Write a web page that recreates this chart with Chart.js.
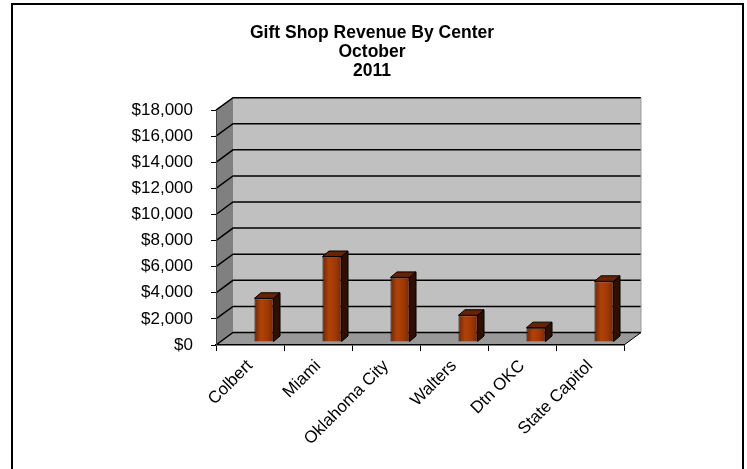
<!DOCTYPE html>
<html>
<head>
<meta charset="utf-8">
<title>Gift Shop Revenue By Center</title>
<script src="https://cdn.jsdelivr.net/npm/chart.js@4.4.1/dist/chart.umd.min.js"></script>
<style>
  html, body { margin: 0; padding: 0; background: #fff; }
  canvas { display: block; }
</style>
</head>
<body>
<canvas id="chart" width="747" height="469"></canvas>
<script>
// Revenue per center for the month
const centers = ['Colbert', 'Miami', 'Oklahoma City', 'Walters', 'Dtn OKC', 'State Capitol'];
const revenue = [3350, 6550, 4950, 2050, 1100, 4650];
const titleLines = ['Gift Shop Revenue By Center', 'October', '2011'];
const yMax = 18000;
const yStep = 2000;

const FONT = "'Liberation Sans', Arial, sans-serif";

// fake 3d: back wall offset, bar offset into the box, bar depth
const WALL = { dx: 17, dy: -12.5 };
const BAR_SHIFT = { dx: 14, dy: -3 };
const BAR_DEPTH = { dx: 6.5, dy: -5.5 };

function poly(ctx, pts, fill, stroke, lw) {
  ctx.beginPath();
  ctx.moveTo(pts[0][0], pts[0][1]);
  for (let i = 1; i < pts.length; i++) ctx.lineTo(pts[i][0], pts[i][1]);
  ctx.closePath();
  if (fill) { ctx.fillStyle = fill; ctx.fill(); }
  if (stroke) { ctx.strokeStyle = stroke; ctx.lineWidth = lw || 1; ctx.stroke(); }
}

// walls, floor and gridlines go under the axes
const box3d = {
  id: 'box3d',
  beforeDraw(chart) {
    const { ctx, chartArea: a, scales } = chart;
    const dx = WALL.dx, dy = WALL.dy;
    ctx.save();
    ctx.fillStyle = '#fff';
    ctx.fillRect(0, 0, chart.width, chart.height);

    // left side wall
    poly(ctx, [[a.left, a.top], [a.left + dx, a.top + dy], [a.left + dx, a.bottom + dy], [a.left, a.bottom]], '#808080');
    // back wall
    poly(ctx, [[a.left + dx, a.top + dy], [a.right + dx, a.top + dy], [a.right + dx, a.bottom + dy], [a.left + dx, a.bottom + dy]], '#c0c0c0');
    // floor
    poly(ctx, [[a.left, a.bottom], [a.left + dx, a.bottom + dy], [a.right + dx, a.bottom + dy], [a.right, a.bottom]], '#999999');

    // gridlines run across the side wall and the back wall
    ctx.strokeStyle = '#000';
    ctx.lineWidth = 1.5;
    scales.y.ticks.forEach(t => {
      const py = scales.y.getPixelForValue(t.value);
      ctx.beginPath();
      ctx.moveTo(a.left, py);
      ctx.lineTo(a.left + dx, py + dy);
      ctx.lineTo(a.right + dx, py + dy);
      ctx.stroke();
    });

    // back wall right edge and floor right edge
    ctx.lineWidth = 1;
    ctx.strokeStyle = '#9a9a9a';
    ctx.beginPath();
    ctx.moveTo(a.right + dx, a.top + dy);
    ctx.lineTo(a.right + dx, a.bottom + dy);
    ctx.stroke();
    ctx.strokeStyle = '#000';
    ctx.beginPath();
    ctx.moveTo(a.right, a.bottom);
    ctx.lineTo(a.right + dx, a.bottom + dy);
    ctx.stroke();
    ctx.restore();
  },
  beforeDatasetsDraw(chart) {
    // bars stand a little way into the box
    chart.ctx.save();
    chart.ctx.translate(BAR_SHIFT.dx, BAR_SHIFT.dy);
  },
  afterDatasetsDraw(chart) {
    const ctx = chart.ctx;
    const ddx = BAR_DEPTH.dx, ddy = BAR_DEPTH.dy;
    chart.getDatasetMeta(0).data.forEach(bar => {
      const l = bar.x - bar.width / 2, r = bar.x + bar.width / 2;
      const top = bar.y, base = bar.base;
      // side face
      poly(ctx, [[r, top], [r + ddx, top + ddy], [r + ddx, base + ddy], [r, base]], '#2e1000', '#000', 1);
      // top face
      poly(ctx, [[l, top], [l + ddx, top + ddy], [r + ddx, top + ddy], [r, top]], '#6a2300', '#000', 1);
    });
    ctx.restore();
  },
  afterDraw(chart) {
    const ctx = chart.ctx;
    ctx.save();
    ctx.strokeStyle = '#000';
    ctx.lineWidth = 2;
    ctx.strokeRect(12, 4, 731, chart.height + 10);
    ctx.restore();
  }
};

function barFill(c) {
  const chart = c.chart;
  if (!chart.chartArea || !chart.scales.x) return '#993300';
  const x = chart.scales.x.getPixelForValue(c.dataIndex);
  const g = chart.ctx.createLinearGradient(x - 10, 0, x + 10, 0);
  g.addColorStop(0, '#6e2200');
  g.addColorStop(0.35, '#b04208');
  g.addColorStop(0.65, '#a23a04');
  g.addColorStop(1, '#7a2600');
  return g;
}

new Chart(document.getElementById('chart'), {
  type: 'bar',
  data: {
    labels: centers,
    datasets: [{
      label: 'Revenue',
      data: revenue,
      backgroundColor: barFill,
      borderColor: '#000',
      borderWidth: 1,
      barPercentage: 0.28,
      categoryPercentage: 1
    }]
  },
  options: {
    responsive: false,
    animation: false,
    devicePixelRatio: 1,
    layout: { padding: { top: 13, right: 123, bottom: 0, left: 120 } },
    plugins: {
      legend: { display: false },
      tooltip: { enabled: false },
      title: {
        display: true,
        text: titleLines,
        color: '#000',
        font: { family: FONT, size: 17.5, weight: 'bold', lineHeight: 1.09 },
        padding: { top: 10.5, bottom: 29.4 }
      }
    },
    scales: {
      x: {
        afterFit(scale) { scale.height = 124; },
        grid: { offset: true, drawOnChartArea: false, drawTicks: true, tickLength: 6, color: '#000' },
        border: { display: true, color: '#000', width: 1.5 },
        ticks: {
          color: '#000',
          font: { family: FONT, size: 17 },
          maxRotation: 45,
          minRotation: 45,
          padding: 5
        }
      },
      y: {
        min: 0,
        max: yMax,
        afterFit(scale) { scale.width = 96; },
        grid: { drawOnChartArea: false, drawTicks: true, tickLength: 5, color: '#000' },
        border: { display: true, color: '#404040', width: 1 },
        ticks: {
          stepSize: yStep,
          color: '#000',
          font: { family: FONT, size: 17 },
          padding: 18,
          callback: v => '$' + v.toLocaleString('en-US')
        }
      }
    }
  },
  plugins: [box3d]
});
</script>
</body>
</html>
